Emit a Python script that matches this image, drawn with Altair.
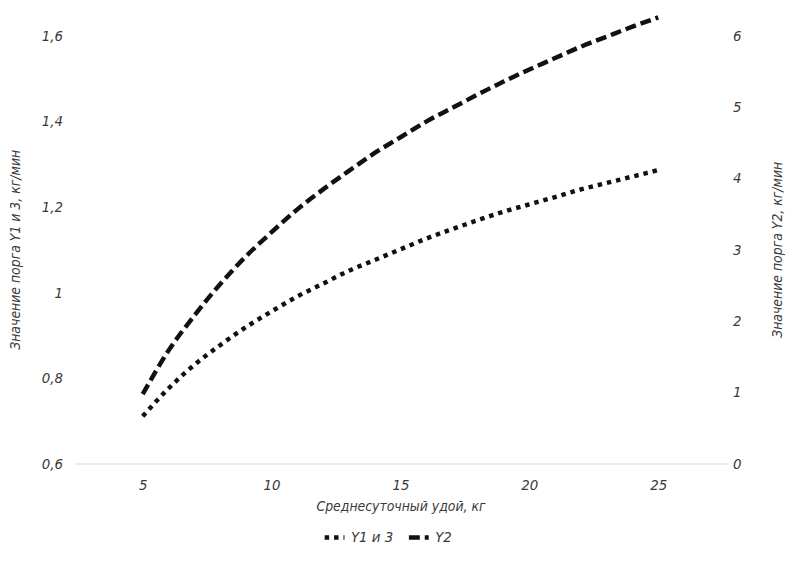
import altair as alt
import pandas as pd

# Data
x_vals = [5, 6, 7, 8, 9, 10, 11, 12, 13, 14, 15, 16, 17, 18, 19, 20, 21, 22, 23, 24, 25]
y1_vals = [0.71, 0.775, 0.83, 0.876, 0.918, 0.955, 0.99, 1.02, 1.05, 1.075, 1.10,
           1.125, 1.147, 1.168, 1.188, 1.205, 1.222, 1.24, 1.255, 1.27, 1.285]
y2_vals = [0.97, 1.58, 2.07, 2.51, 2.9, 3.24, 3.56, 3.84, 4.1, 4.35, 4.57,
           4.79, 4.98, 5.17, 5.35, 5.52, 5.68, 5.84, 5.98, 6.12, 6.25]
series_names = ["Y1 и 3", "Y2"]
x_ticks = [5, 10, 15, 20, 25]
left_ticks = [0.6, 0.8, 1.0, 1.2, 1.4, 1.6]
right_ticks = [0, 1, 2, 3, 4, 5, 6]

df1 = pd.DataFrame({"x": x_vals, "v": y1_vals, "series": series_names[0]})
df2 = pd.DataFrame({"x": x_vals, "v": y2_vals, "series": series_names[1]})

FONT = "DejaVu Sans Condensed, Roboto, sans-serif"
TXT = "#3a3a3a"

xenc = alt.X("x:Q",
             scale=alt.Scale(domain=[2.35, 27.65], nice=False, zero=False),
             axis=alt.Axis(values=x_ticks, title="Среднесуточный удой, кг",
                           grid=False, ticks=False, domain=True,
                           domainColor="#e6e6e6", domainWidth=1.5,
                           labelPadding=14, titlePadding=8))

dash = alt.StrokeDash("series:N",
                      scale=alt.Scale(domain=series_names, range=[[4.5, 5], [11, 5]]),
                      legend=alt.Legend(title=None, orient="none", direction="horizontal",
                                        legendX=250, legendY=494,
                                        symbolType="stroke", symbolSize=400,
                                        symbolStrokeWidth=4.5, symbolStrokeColor="#111",
                                        labelFontSize=15, labelFont=FONT,
                                        labelFontStyle="italic", labelColor=TXT,
                                        columnPadding=6, labelOffset=4))

line1 = alt.Chart(df1).mark_line(color="#111", strokeWidth=4.5, interpolate="monotone").encode(
    x=xenc,
    y=alt.Y("v:Q", scale=alt.Scale(domain=[0.6, 1.6], nice=False, zero=False),
            axis=alt.Axis(orient="left", values=left_ticks, grid=False, ticks=False,
                          domain=False, title="Значение порга Y1 и 3, кг/мин",
                          labelExpr="replace(format(datum.value, '~g'), '.', ',')",
                          labelPadding=12, titlePadding=19)),
    strokeDash=dash,
)

line2 = alt.Chart(df2).mark_line(color="#111", strokeWidth=4.5, interpolate="monotone").encode(
    x=xenc,
    y=alt.Y("v:Q", scale=alt.Scale(domain=[0, 6], nice=False, zero=False),
            axis=alt.Axis(orient="right", values=right_ticks, grid=False, ticks=False,
                          domain=False, title="Значение порга Y2, кг/мин",
                          titleAngle=270, labelPadding=6, titlePadding=44)),
    strokeDash=dash,
)

chart = alt.layer(line1, line2).resolve_scale(y="independent").properties(
    width=658, height=432,
    autosize=alt.AutoSizeParams(type="none"),
    padding={"left": 67, "top": 25, "right": 62, "bottom": 95},
).configure_view(stroke=None).configure_axis(
    labelFont=FONT, labelFontSize=15, labelFontStyle="italic", labelColor=TXT,
    titleFont=FONT, titleFontSize=14, titleFontStyle="italic", titleFontWeight="normal",
    titleColor=TXT,
)

chart.save("out.html", embed_options={"renderer": "svg", "actions": False})
